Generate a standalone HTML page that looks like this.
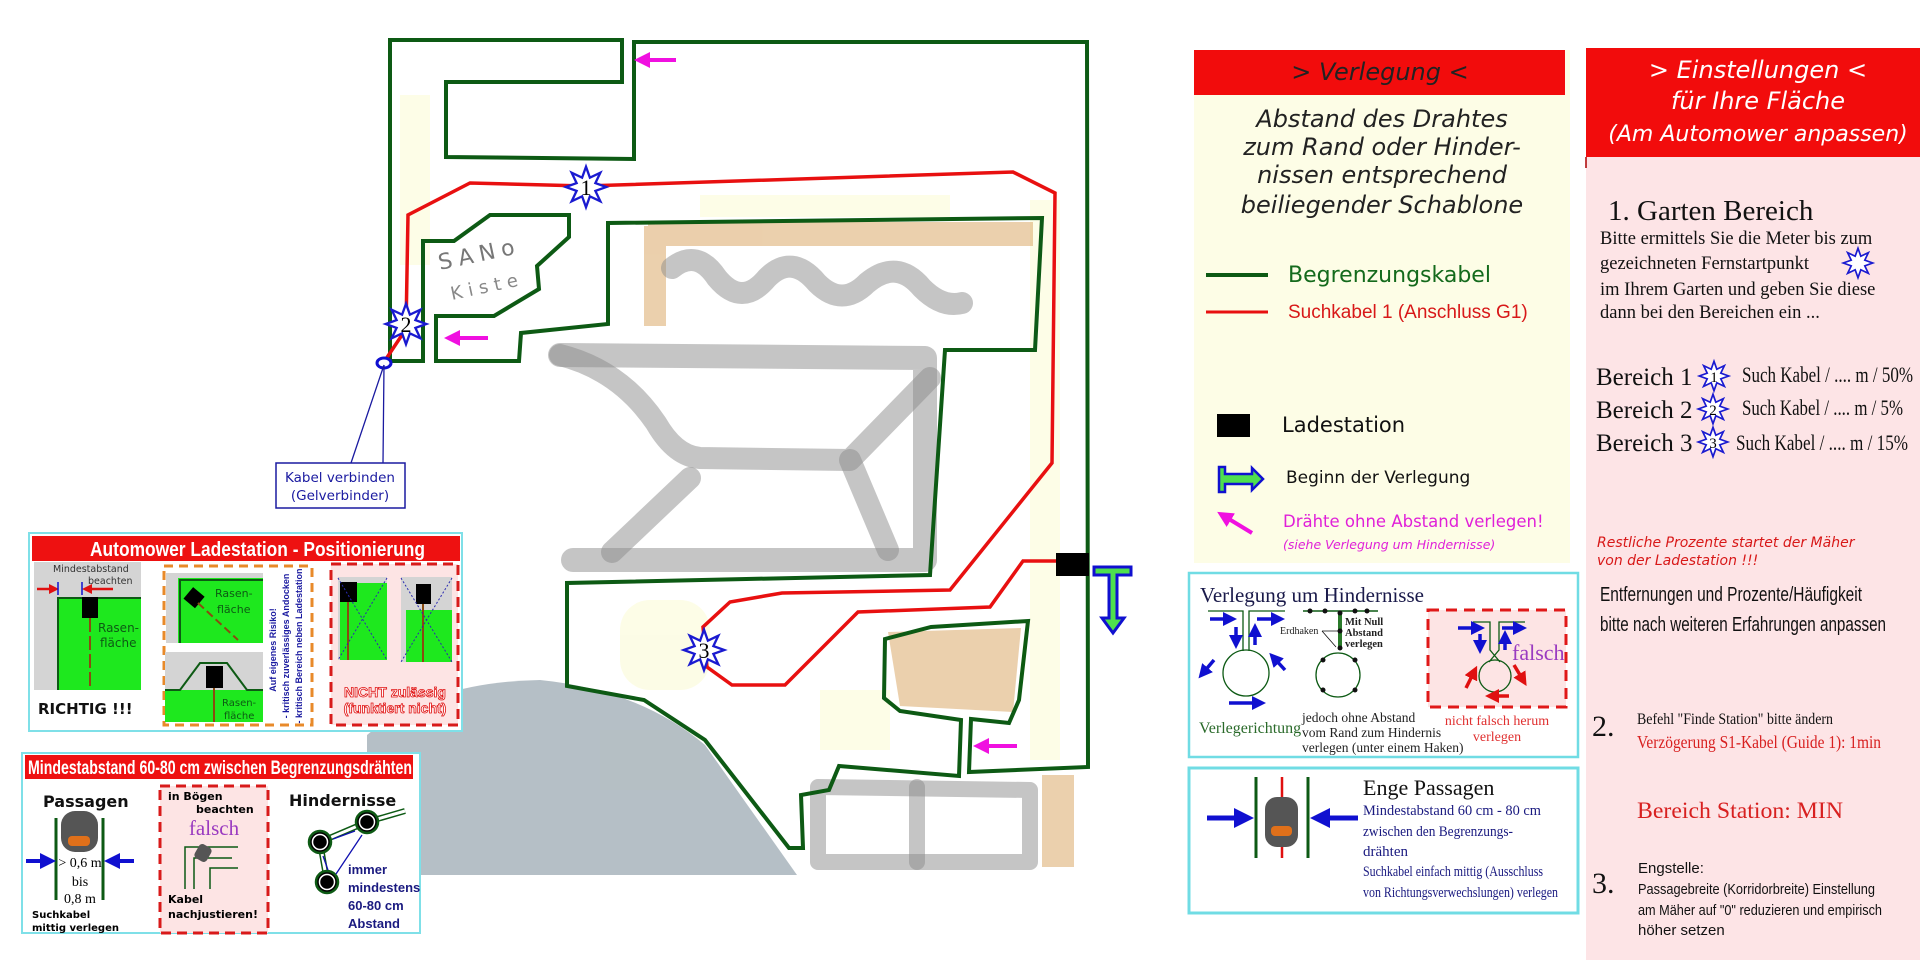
<!DOCTYPE html>
<html><head><meta charset="utf-8">
<style>
html,body{margin:0;padding:0;background:#fff;}
svg{display:block;}
.s{font-family:"Liberation Sans","DejaVu Sans",sans-serif;}
.r{font-family:"Liberation Serif","DejaVu Serif",serif;}
.d{font-family:"DejaVu Sans","Liberation Sans",sans-serif;}
</style></head>
<body>
<svg width="1920" height="960" viewBox="0 0 1920 960" xmlns="http://www.w3.org/2000/svg">
<defs>
<polygon id="st" points="0,-14 2.68,-6.47 9.9,-9.9 6.47,-2.68 14,0 6.47,2.68 9.9,9.9 2.68,6.47 0,14 -2.68,6.47 -9.9,9.9 -6.47,2.68 -14,0 -6.47,-2.68 -9.9,-9.9 -2.68,-6.47" fill="#fff" stroke="#1a1ad0" stroke-width="1.6"/>
<marker id="ab" markerWidth="4" markerHeight="4" refX="2" refY="2" orient="auto" markerUnits="strokeWidth"><path d="M0,0 L4,2 L0,4 z" fill="#1010d0"/></marker>
<marker id="ar" markerWidth="4" markerHeight="4" refX="2" refY="2" orient="auto" markerUnits="strokeWidth"><path d="M0,0 L4,2 L0,4 z" fill="#e01010"/></marker>
<marker id="am" markerWidth="4" markerHeight="4" refX="2" refY="2" orient="auto" markerUnits="strokeWidth"><path d="M0,0 L4,2 L0,4 z" fill="#f010e0"/></marker>
</defs>

<!-- map background tints -->
<g opacity="0.18">
<rect x="400" y="95" width="30" height="170" fill="#f4f27a"/>
<rect x="700" y="195" width="250" height="22" fill="#f4f27a"/>
<rect x="620" y="600" width="90" height="90" fill="#f4f27a" rx="30"/>
<rect x="1030" y="200" width="30" height="560" fill="#f4f27a"/>
<rect x="820" y="690" width="70" height="60" fill="#f4f27a"/>
<rect x="600" y="730" width="100" height="60" fill="#f6f2a0"/>
</g>
<!-- gray gravel blob -->
<path d="M367,875 L367,735 Q430,682 540,680 Q640,690 705,745 L797,875 Z" fill="#a8b4bc" opacity="0.85"/>
<!-- orange areas -->
<g opacity="0.55" fill="#dba96a">
<rect x="648" y="222" width="385" height="24"/>
<rect x="644" y="226" width="22" height="100"/>
<polygon points="888,632 1021,628 1013,712 900,706"/>
<rect x="1042" y="775" width="32" height="92"/>
</g>
<!-- gray drawn paths -->
<g fill="none" stroke="#8c8c8c" stroke-opacity="0.5" stroke-linecap="round" stroke-linejoin="round">
<path d="M672,268 q25,-20 45,10 q25,30 50,0 q25,-25 50,5 q25,25 50,0 q30,-25 55,5 q20,20 40,15" stroke-width="22"/>
<path d="M560,355 L925,358 L925,560 L573,560" stroke-width="24"/>
<path d="M560,355 Q620,370 656,423 Q675,456 700,458 L850,460 L930,378" stroke-width="22"/>
<path d="M850,460 L888,550" stroke-width="22"/>
<path d="M690,478 L612,552" stroke-width="22"/>
<path d="M818,787 L1030,790 L1030,862 L818,862 Z" stroke-width="16"/>
<path d="M917,787 L917,862" stroke-width="16"/>
</g>
<text x="440" y="270" class="d" font-size="22" fill="#777" letter-spacing="6" transform="rotate(-12 440 270)">SANo</text>
<text x="452" y="300" class="d" font-size="18" fill="#888" letter-spacing="6" transform="rotate(-12 452 300)">Kiste</text>

<!-- green boundary -->
<path d="M390,361 L390,40 L622,40 L622,82 L446,82 L446,157 L634,159 L634,42 L1087,42 L1088,767 L969,772 L971,719 L1009,723 L1019,700 L1028,621 L931,627 L885,639 L884,698 L900,711 L961,720 L959,776 L839,766 L829,790 L801,795 L803,848 L789,848 L705,740 L644,700 L567,686 L567,583 L930,575 L945,350 L1035,350 L1042,218 L608,223 L608,324 L521,333 L519,361 L436,361 L436,316 L494,316 L539,289 L537,266 L569,237 L569,215 L490,215 L454,241 L423,241 L423,361 Z" fill="none" stroke="#0d5a14" stroke-width="4" stroke-linejoin="miter"/>
<!-- red guide -->
<path d="M384,362 L406,329 L408,215 L470,183 L585,186 L1013,172 L1055,193 L1052,463 L950,590 L782,593 L730,602 L703,627 L707,667 L732,685 L785,685 L858,612 L990,607 L1023,561 L1057,561" fill="none" stroke="#e81010" stroke-width="3.5" stroke-linejoin="miter"/>
<!-- stars -->
<use href="#st" transform="translate(586,187) scale(1.45)"/>
<text x="586" y="195" class="r" font-size="22" text-anchor="middle">1</text>
<use href="#st" transform="translate(406,324) scale(1.45)"/>
<text x="406" y="332" class="r" font-size="22" text-anchor="middle">2</text>
<use href="#st" transform="translate(704,650) scale(1.45)"/>
<text x="704" y="658" class="r" font-size="22" text-anchor="middle">3</text>
<!-- connector circle and label -->
<ellipse cx="384" cy="363" rx="7" ry="5" fill="#fff" stroke="#1010d0" stroke-width="3"/>
<path d="M384,365 L351,463 M384,365 L383,463" stroke="#1a1aa0" stroke-width="1.3" fill="none"/>
<rect x="276" y="463" width="129" height="45" fill="#fff" stroke="#1a1aa0" stroke-width="1.5"/>
<text x="340" y="482" class="d" font-size="13.5" fill="#1a1aa0" text-anchor="middle">Kabel verbinden</text>
<text x="340" y="500" class="d" font-size="13.5" fill="#1a1aa0" text-anchor="middle">(Gelverbinder)</text>
<!-- pink arrows -->
<g stroke="#f010e0" stroke-width="4" marker-end="url(#am)">
<line x1="676" y1="60" x2="642" y2="60"/>
<line x1="488" y1="338" x2="452" y2="338"/>
<line x1="1017" y1="746" x2="981" y2="746"/>
</g>
<!-- station & begin arrow -->
<rect x="1056" y="553" width="33" height="23" fill="#000"/>
<path d="M1094,567 L1131,567 L1131,575 L1117,575 L1117,618 L1124,618 L1113,633 L1102,618 L1109,618 L1109,575 L1094,575 Z" fill="#4ee04e" stroke="#1010d0" stroke-width="3"/>

<!-- ===== Ladestation panel ===== -->
<rect x="29" y="533" width="433" height="198" fill="#fff" stroke="#7fe0e8" stroke-width="2"/>
<rect x="32" y="536" width="428" height="25" fill="#ee1111"/>
<text x="90" y="556" class="s" font-size="20" font-weight="bold" fill="#fff" textLength="335" lengthAdjust="spacingAndGlyphs">Automower Ladestation - Positionierung</text>
<rect x="34" y="562" width="107" height="128" fill="#d4d4d4"/>
<rect x="57" y="597" width="84" height="93" fill="#1ee81e"/>
<path d="M58,690 L58,598 L141,598" fill="none" stroke="#0d5a14" stroke-width="2"/>
<rect x="82" y="597" width="16" height="21" fill="#000"/>
<line x1="90" y1="618" x2="90" y2="690" stroke="#8a4a10" stroke-width="2" stroke-dasharray="14,4"/>
<text x="53" y="572" class="d" font-size="9.5" fill="#333">Mindestabstand</text>
<text x="88" y="584" class="d" font-size="9.5" fill="#333">beachten</text>
<line x1="37" y1="589" x2="54" y2="589" stroke="#e01010" stroke-width="2.5" marker-end="url(#ar)"/>
<line x1="113" y1="589" x2="87" y2="589" stroke="#e01010" stroke-width="2.5" marker-end="url(#ar)"/>
<line x1="58" y1="582" x2="58" y2="595" stroke="#1010d0" stroke-width="1.5"/>
<line x1="82" y1="582" x2="82" y2="595" stroke="#1010d0" stroke-width="1.5"/>
<text x="98" y="632" class="d" font-size="12" fill="#0d5a14">Rasen-</text>
<text x="100" y="647" class="d" font-size="12" fill="#0d5a14">fläche</text>
<text x="38" y="714" class="d" font-size="15" font-weight="bold" fill="#111">RICHTIG !!!</text>

<rect x="164" y="566" width="148" height="159" fill="#fff" stroke="#e88a2a" stroke-width="3" stroke-dasharray="9,6"/>
<rect x="166" y="573" width="97" height="70" fill="#d4d4d4"/>
<rect x="178" y="578" width="85" height="65" fill="#1ee81e"/>
<path d="M180,643 L180,580 L263,580" fill="none" stroke="#0d5a14" stroke-width="2"/>
<rect x="187" y="590" width="15" height="15" fill="#000" transform="rotate(40 194 597)"/>
<line x1="198" y1="603" x2="238" y2="640" stroke="#8a4a10" stroke-width="2" stroke-dasharray="8,4"/>
<text x="215" y="597" class="d" font-size="11" fill="#0d5a14">Rasen-</text>
<text x="217" y="613" class="d" font-size="11" fill="#0d5a14">fläche</text>
<rect x="165" y="652" width="98" height="70" fill="#d4d4d4"/>
<rect x="165" y="690" width="98" height="32" fill="#1ee81e"/>
<path d="M165,690 L180,690 L200,663 L227,663 L247,690 L263,690" fill="none" stroke="#0d5a14" stroke-width="2"/>
<rect x="206" y="666" width="17" height="22" fill="#000"/>
<line x1="214" y1="688" x2="214" y2="722" stroke="#8a4a10" stroke-width="2"/>
<text x="222" y="706" class="d" font-size="10" fill="#0d5a14">Rasen-</text>
<text x="224" y="719" class="d" font-size="10" fill="#0d5a14">fläche</text>
<g class="s" font-size="9" font-weight="bold" fill="#1a1aa0" text-anchor="middle">
<text transform="translate(276,650) rotate(-90)">Auf eigenes Risiko!</text>
<text transform="translate(289,646) rotate(-90)">- kritisch zuverlässiges Andocken</text>
<text transform="translate(302,646) rotate(-90)">- kritisch Bereich neben Ladestation</text>
</g>

<rect x="331" y="564" width="127" height="161" fill="#fde4e4" stroke="#d81a1a" stroke-width="3" stroke-dasharray="10,6"/>
<rect x="338" y="577" width="49" height="83" fill="#d4d4d4"/>
<rect x="340" y="583" width="47" height="77" fill="#1ee81e"/>
<rect x="340" y="582" width="17" height="20" fill="#000"/>
<line x1="348" y1="602" x2="348" y2="660" stroke="#8a4a10" stroke-width="2"/>
<path d="M338,578 L387,660 M387,578 L338,660" stroke="#2a2ab0" stroke-width="1" stroke-dasharray="2,2"/>
<rect x="401" y="577" width="51" height="85" fill="#d4d4d4"/>
<rect x="406" y="610" width="46" height="52" fill="#1ee81e"/>
<rect x="416" y="584" width="15" height="20" fill="#000"/>
<line x1="423" y1="604" x2="423" y2="662" stroke="#8a4a10" stroke-width="2"/>
<path d="M401,578 L452,662 M452,578 L401,662" stroke="#2a2ab0" stroke-width="1" stroke-dasharray="2,2"/>
<text x="395" y="697" class="s" font-size="14" font-weight="bold" fill="#fff" stroke="#e01010" stroke-width="0.8" text-anchor="middle">NICHT zulässig</text>
<text x="395" y="713" class="s" font-size="14" font-weight="bold" fill="#fff" stroke="#e01010" stroke-width="0.8" text-anchor="middle">(funktiert nicht)</text>

<!-- ===== Mindestabstand panel ===== -->
<rect x="22" y="753" width="398" height="180" fill="#fff" stroke="#7fe0e8" stroke-width="2"/>
<rect x="25" y="755" width="388" height="24" fill="#ee1111"/>
<text x="28" y="774" class="s" font-size="19" font-weight="bold" fill="#fff" textLength="384" lengthAdjust="spacingAndGlyphs">Mindestabstand 60-80 cm zwischen Begrenzungsdrähten</text>
<text x="43" y="807" class="d" font-size="16" font-weight="bold" fill="#111">Passagen</text>
<line x1="56" y1="818" x2="56" y2="900" stroke="#0d5a14" stroke-width="3"/>
<line x1="103" y1="818" x2="103" y2="900" stroke="#0d5a14" stroke-width="3"/>
<rect x="61" y="811" width="37" height="41" rx="14" fill="#555"/>
<rect x="68" y="836" width="22" height="10" rx="4" fill="#e0701a"/>
<line x1="26" y1="861" x2="48" y2="861" stroke="#1010d0" stroke-width="4" marker-end="url(#ab)"/>
<line x1="134" y1="861" x2="112" y2="861" stroke="#1010d0" stroke-width="4" marker-end="url(#ab)"/>
<text x="80" y="867" class="r" font-size="14" text-anchor="middle">&gt; 0,6 m</text>
<text x="80" y="886" class="r" font-size="14" text-anchor="middle">bis</text>
<text x="80" y="903" class="r" font-size="14" text-anchor="middle">0,8 m</text>
<text x="32" y="918" class="d" font-size="10" font-weight="bold">Suchkabel</text>
<text x="32" y="931" class="d" font-size="10" font-weight="bold">mittig verlegen</text>

<rect x="160" y="786" width="108" height="147" fill="#fde4e4" stroke="#d81a1a" stroke-width="3" stroke-dasharray="10,6"/>
<text x="168" y="800" class="d" font-size="11" font-weight="bold">in Bögen</text>
<text x="196" y="813" class="d" font-size="11" font-weight="bold">beachten</text>
<text x="214" y="835" class="r" font-size="21" fill="#9a3ac0" text-anchor="middle">falsch</text>
<path d="M185,889 L185,847 L238,847 M210,889 L210,868 L238,868 M194,889 L194,858 L232,858" fill="none" stroke="#0d5a14" stroke-width="1.5"/>
<rect x="196" y="845" width="14" height="16" rx="4" fill="#555" transform="rotate(30 203 853)"/>
<text x="168" y="903" class="d" font-size="11" font-weight="bold">Kabel</text>
<text x="168" y="918" class="d" font-size="11" font-weight="bold">nachjustieren!</text>

<text x="289" y="806" class="d" font-size="16" font-weight="bold" fill="#111">Hindernisse</text>
<path d="M320,842 L367,822 L405,811 M320,842 L327,882" fill="none" stroke="#0d5a14" stroke-width="6"/>
<path d="M320,842 L367,822 L405,811 M320,842 L327,882" fill="none" stroke="#fff" stroke-width="3"/>
<g fill="#000" stroke="#0d5a14" stroke-width="2.5">
<circle cx="320" cy="842" r="11"/><circle cx="367" cy="822" r="11"/><circle cx="327" cy="882" r="11"/>
</g>
<g fill="none" stroke="#fff" stroke-width="1.5"><circle cx="320" cy="842" r="7.5"/><circle cx="367" cy="822" r="7.5"/><circle cx="327" cy="882" r="7.5"/></g>
<path d="M333,839 L355,831 M323,856 L328,870 M362,835 L336,874" stroke="#1010b0" stroke-width="1.3"/>
<g class="s" font-size="13" font-weight="bold" fill="#1a1a80">
<text x="348" y="874">immer</text><text x="348" y="892">mindestens</text><text x="348" y="910">60-80 cm</text><text x="348" y="928">Abstand</text>
</g>

<!-- ===== Verlegung legend panel ===== -->
<rect x="1194" y="50" width="376" height="513" fill="#fdfde6"/>
<rect x="1194" y="50" width="371" height="45" fill="#f20c0c"/>
<text x="1380" y="80" class="d" font-size="24" font-style="italic" fill="#222" text-anchor="middle">&gt; Verlegung &lt;</text>
<g class="d" font-size="24" font-style="italic" fill="#222" text-anchor="middle">
<text x="1382" y="127">Abstand des Drahtes</text>
<text x="1382" y="155">zum Rand oder Hinder-</text>
<text x="1382" y="183">nissen entsprechend</text>
<text x="1382" y="213">beiliegender Schablone</text>
</g>
<line x1="1206" y1="275" x2="1268" y2="275" stroke="#0d5a14" stroke-width="4"/>
<text x="1288" y="282" class="d" font-size="22" fill="#146a1c">Begrenzungskabel</text>
<line x1="1206" y1="312" x2="1268" y2="312" stroke="#e81010" stroke-width="3"/>
<text x="1288" y="318" class="s" font-size="19" fill="#d81818">Suchkabel 1 (Anschluss G1)</text>
<rect x="1217" y="414" width="33" height="23" fill="#000"/>
<text x="1282" y="432" class="d" font-size="21" fill="#111">Ladestation</text>
<path d="M1219,467 L1225,467 L1225,474 L1252,474 L1252,468 L1263,479 L1252,490 L1252,484 L1225,484 L1225,492 L1219,492 Z" fill="#4ee04e" stroke="#1010d0" stroke-width="2.5"/>
<text x="1286" y="483" class="d" font-size="17" fill="#111">Beginn der Verlegung</text>
<line x1="1252" y1="533" x2="1224" y2="516" stroke="#f010e0" stroke-width="4" marker-end="url(#am)"/>
<text x="1283" y="527" class="d" font-size="16.5" fill="#e020d8">Drähte ohne Abstand verlegen!</text>
<text x="1283" y="549" class="d" font-size="12.5" font-style="italic" fill="#e020d8">(siehe Verlegung um Hindernisse)</text>

<!-- ===== Verlegung um Hindernisse ===== -->
<rect x="1189" y="573" width="389" height="184" fill="#fff" stroke="#70dce4" stroke-width="2.5"/>
<text x="1200" y="602" class="r" font-size="21" fill="#1a1a4a">Verlegung um Hindernisse</text>
<path d="M1208,611 L1243,611 L1243,651 M1285,611 L1249,611 L1249,651" fill="none" stroke="#0d5a14" stroke-width="1.3"/>
<circle cx="1246" cy="673" r="23" fill="none" stroke="#0d5a14" stroke-width="1.3"/>
<g stroke="#1010d0" stroke-width="3.5" marker-end="url(#ab)">
<line x1="1210" y1="619" x2="1230" y2="619"/>
<line x1="1257" y1="619" x2="1278" y2="619"/>
<line x1="1236" y1="627" x2="1236" y2="642"/>
<line x1="1255" y1="645" x2="1255" y2="630"/>
<line x1="1214" y1="660" x2="1203" y2="673"/>
<line x1="1285" y1="670" x2="1274" y2="658"/>
<line x1="1229" y1="703" x2="1259" y2="703"/>
</g>
<text x="1199" y="733" class="r" font-size="16" fill="#2a6a2a">Verlegerichtung</text>
<line x1="1303" y1="611" x2="1378" y2="611" stroke="#0d5a14" stroke-width="1.5"/>
<line x1="1340" y1="611" x2="1340" y2="648" stroke="#2a7a2a" stroke-width="4"/>
<circle cx="1338" cy="675" r="22" fill="none" stroke="#0d5a14" stroke-width="1.3"/>
<g fill="#111"><circle cx="1310" cy="611" r="2.5"/><circle cx="1325" cy="611" r="2.5"/><circle cx="1340" cy="613" r="2.5"/><circle cx="1355" cy="611" r="2.5"/><circle cx="1367" cy="611" r="2.5"/><circle cx="1340" cy="631" r="2.5"/><circle cx="1340" cy="648" r="2.5"/><circle cx="1323" cy="660" r="2.5"/><circle cx="1355" cy="660" r="2.5"/><circle cx="1323" cy="690" r="2.5"/><circle cx="1355" cy="690" r="2.5"/></g>
<path d="M1322,631 L1338,631 M1322,631 L1336,647" stroke="#111" stroke-width="0.8" fill="none"/>
<text x="1280" y="634" class="r" font-size="10" fill="#222">Erdhaken</text>
<g class="r" font-size="10.5" font-weight="bold" fill="#222"><text x="1345" y="625">Mit Null</text><text x="1345" y="636">Abstand</text><text x="1345" y="647">verlegen</text></g>
<g class="r" font-size="13.5" fill="#222"><text x="1302" y="722">jedoch ohne Abstand</text><text x="1302" y="737">vom Rand zum Hindernis</text><text x="1302" y="752">verlegen (unter einem Haken)</text></g>
<rect x="1428" y="610" width="138" height="97" fill="#fde4e4" stroke="#e01818" stroke-width="3" stroke-dasharray="11,7"/>
<path d="M1473,622 L1490,622 L1490,650 L1500,662 M1525,622 L1499,622 L1499,650 L1489,662" fill="none" stroke="#0d5a14" stroke-width="1.3"/>
<circle cx="1495" cy="676" r="16" fill="none" stroke="#0d5a14" stroke-width="1.3"/>
<g stroke="#1010d0" stroke-width="3.5" marker-end="url(#ab)">
<line x1="1458" y1="628" x2="1478" y2="628"/><line x1="1502" y1="628" x2="1520" y2="628"/><line x1="1480" y1="634" x2="1480" y2="647"/><line x1="1505" y1="650" x2="1505" y2="637"/>
</g>
<g stroke="#e01010" stroke-width="3.5" marker-end="url(#ar)">
<line x1="1466" y1="688" x2="1474" y2="672"/><line x1="1514" y1="665" x2="1523" y2="680"/><line x1="1509" y1="696" x2="1492" y2="696"/>
</g>
<text x="1512" y="660" class="r" font-size="22" fill="#9a3ac0">falsch</text>
<text x="1497" y="725" class="r" font-size="14" fill="#e03030" text-anchor="middle">nicht falsch herum</text>
<text x="1497" y="741" class="r" font-size="14" fill="#e03030" text-anchor="middle">verlegen</text>

<!-- ===== Enge Passagen ===== -->
<rect x="1189" y="768" width="389" height="145" fill="#fff" stroke="#70dce4" stroke-width="3"/>
<line x1="1256" y1="777" x2="1256" y2="858" stroke="#0d5a14" stroke-width="3"/>
<line x1="1308" y1="777" x2="1308" y2="858" stroke="#0d5a14" stroke-width="3"/>
<line x1="1282" y1="777" x2="1282" y2="858" stroke="#e01010" stroke-width="2.5"/>
<rect x="1265" y="797" width="33" height="50" rx="12" fill="#555"/>
<rect x="1271" y="826" width="21" height="10" rx="4" fill="#e0701a"/>
<line x1="1207" y1="818" x2="1244" y2="818" stroke="#1010d0" stroke-width="5" marker-end="url(#ab)"/>
<line x1="1358" y1="818" x2="1320" y2="818" stroke="#1010d0" stroke-width="5" marker-end="url(#ab)"/>
<text x="1363" y="795" class="r" font-size="22" fill="#111">Enge Passagen</text>
<g class="r" font-size="15" fill="#1a1a80">
<text x="1363" y="815" textLength="178" lengthAdjust="spacingAndGlyphs">Mindestabstand 60 cm - 80 cm</text>
<text x="1363" y="836" textLength="150" lengthAdjust="spacingAndGlyphs">zwischen den Begrenzungs-</text>
<text x="1363" y="856">drähten</text>
<text x="1363" y="876" textLength="180" lengthAdjust="spacingAndGlyphs">Suchkabel einfach mittig (Ausschluss</text>
<text x="1363" y="897" textLength="195" lengthAdjust="spacingAndGlyphs">von Richtungsverwechslungen) verlegen</text>
</g>

<!-- ===== Einstellungen column ===== -->
<rect x="1586" y="48" width="334" height="912" fill="#fde4e6"/>
<rect x="1586" y="48" width="334" height="109" fill="#f20c0c"/>
<line x1="1586" y1="157" x2="1586" y2="168" stroke="#a00" stroke-width="1.5"/>
<g class="d" font-style="italic" fill="#fff" text-anchor="middle">
<text x="1758" y="78" font-size="24">&gt; Einstellungen &lt;</text>
<text x="1758" y="109" font-size="24">für Ihre Fläche</text>
<text x="1758" y="141" font-size="22">(Am Automower anpassen)</text>
</g>
<text x="1608" y="220" class="r" font-size="29" fill="#111">1. Garten Bereich</text>
<g class="r" font-size="18.5" fill="#111">
<text x="1600" y="244">Bitte ermittels Sie die Meter bis zum</text>
<text x="1600" y="269">gezeichneten Fernstartpunkt</text>
<text x="1600" y="295">im Ihrem Garten und geben Sie diese</text>
<text x="1600" y="318">dann bei den Bereichen ein ...</text>
</g>
<use href="#st" transform="translate(1858,263) scale(1.05)"/>
<g class="r" font-size="25" fill="#111">
<text x="1596" y="385">Bereich 1</text>
<text x="1596" y="418">Bereich 2</text>
<text x="1596" y="451">Bereich 3</text>
</g>
<use href="#st" transform="translate(1714,376) scale(1.05)"/><text x="1714" y="382" class="r" font-size="15" text-anchor="middle">1</text>
<use href="#st" transform="translate(1713,409) scale(1.05)"/><text x="1713" y="415" class="r" font-size="15" text-anchor="middle">2</text>
<use href="#st" transform="translate(1713,442) scale(1.05)"/><text x="1713" y="448" class="r" font-size="15" text-anchor="middle">3</text>
<g class="r" font-size="22" fill="#111">
<text x="1742" y="382" textLength="171" lengthAdjust="spacingAndGlyphs">Such Kabel / .... m / 50%</text>
<text x="1742" y="415" textLength="161" lengthAdjust="spacingAndGlyphs">Such Kabel / .... m / 5%</text>
<text x="1736" y="450" textLength="172" lengthAdjust="spacingAndGlyphs">Such Kabel / .... m / 15%</text>
</g>
<g class="d" font-size="14" font-style="italic" fill="#d81818">
<text x="1597" y="547">Restliche Prozente  startet der Mäher</text>
<text x="1597" y="565">von der Ladestation !!!</text>
</g>
<g class="s" font-size="20" fill="#111">
<text x="1600" y="601" textLength="262" lengthAdjust="spacingAndGlyphs">Entfernungen und Prozente/Häufigkeit</text>
<text x="1600" y="631" textLength="286" lengthAdjust="spacingAndGlyphs">bitte nach weiteren Erfahrungen anpassen</text>
</g>
<text x="1592" y="736" class="r" font-size="30" fill="#111">2.</text>
<text x="1637" y="724" class="r" font-size="16" fill="#111" textLength="196" lengthAdjust="spacingAndGlyphs">Befehl "Finde Station" bitte ändern</text>
<text x="1637" y="748" class="r" font-size="18" fill="#d82020" textLength="244" lengthAdjust="spacingAndGlyphs">Verzögerung S1-Kabel (Guide 1): 1min</text>
<text x="1637" y="818" class="r" font-size="23" fill="#d82020" textLength="206" lengthAdjust="spacingAndGlyphs">Bereich Station: MIN</text>
<text x="1592" y="893" class="r" font-size="30" fill="#111">3.</text>
<g class="s" font-size="15" fill="#111">
<text x="1638" y="873">Engstelle:</text>
<text x="1638" y="894" textLength="237" lengthAdjust="spacingAndGlyphs">Passagebreite (Korridorbreite) Einstellung</text>
<text x="1638" y="915" textLength="244" lengthAdjust="spacingAndGlyphs">am Mäher auf "0" reduzieren und empirisch</text>
<text x="1638" y="935">höher setzen</text>
</g>
</svg>
</body></html>
